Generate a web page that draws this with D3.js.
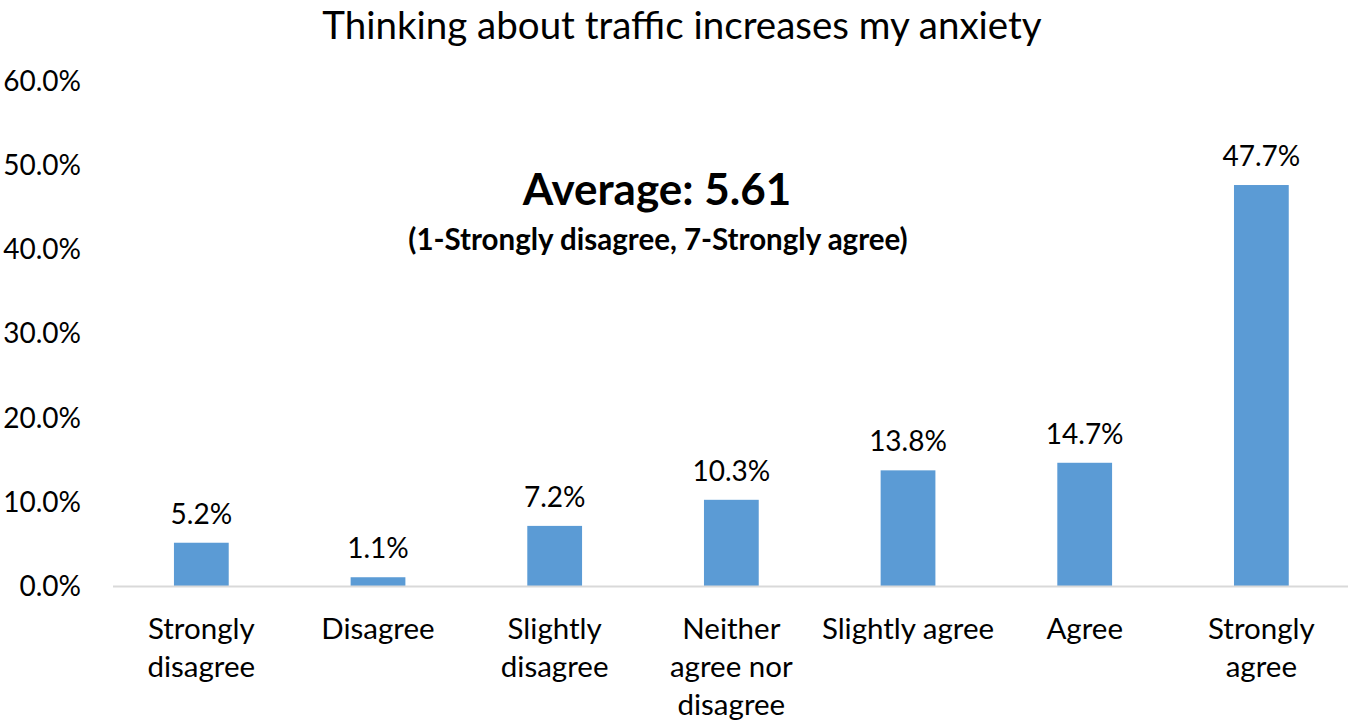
<!DOCTYPE html>
<html><head><meta charset="utf-8">
<script src="https://cdn.jsdelivr.net/npm/d3@7"></script>
<style>body{margin:0;background:#fff}svg{display:block}text{font-family:Lato,"Open Sans",sans-serif;fill:#000}</style>
</head><body>
<script>
const categories = [["Strongly","disagree"],["Disagree"],["Slightly","disagree"],["Neither","agree nor","disagree"],["Slightly agree"],["Agree"],["Strongly","agree"]];
const values = [5.2, 1.1, 7.2, 10.3, 13.8, 14.7, 47.7];
const yTicks = [0, 10, 20, 30, 40, 50, 60];
const title = "Thinking about traffic increases my anxiety";
const avgText = "Average: 5.61";
const avgSub = "(1-Strongly disagree, 7-Strongly agree)";

const W = 1349, H = 721;
const svg = d3.select("body").append("svg").attr("width", W).attr("height", H);
const x = d3.scaleBand().domain(d3.range(values.length)).range([113, 1349.7]).paddingInner(0.69).paddingOuter(0.345);
const y = d3.scaleLinear().domain([0, 60]).range([586.5, 81.5]);

svg.append("text").attr("x", 682).attr("y", 38.5).attr("text-anchor", "middle")
  .style("font-size", "38.5px").text(title);

const yAxis = svg.append("g").attr("transform", "translate(81,0)")
  .call(d3.axisLeft(y).tickValues(yTicks).tickSize(0).tickPadding(0).tickFormat(d => d.toFixed(1) + "%"));
yAxis.select(".domain").remove();
yAxis.selectAll("text").style("font-size", "28px").style("font-family", "Lato").attr("fill", "#000");

svg.append("g").selectAll("rect").data(values).join("rect")
  .attr("x", (d, i) => x(i)).attr("width", x.bandwidth())
  .attr("y", d => y(d)).attr("height", d => y(0) - y(d)).attr("fill", "#5B9BD5");

svg.append("line").attr("x1", 113).attr("x2", 1348).attr("y1", y(0)).attr("y2", y(0))
  .attr("stroke", "#D9D9D9").attr("stroke-width", 2);

svg.append("g").selectAll("text").data(values).join("text")
  .attr("x", (d, i) => x(i) + x.bandwidth() / 2).attr("y", d => y(d) - 29).attr("dy", "0.35em")
  .attr("text-anchor", "middle").style("font-size", "28px").text(d => d.toFixed(1) + "%");

const cat = svg.append("g").selectAll("text").data(categories).join("text")
  .attr("x", (d, i) => x(i) + x.bandwidth() / 2).attr("y", 629).attr("text-anchor", "middle")
  .style("font-size", "29.5px");
cat.selectAll("tspan").data((d, i) => d.map(t => ({t, i}))).join("tspan")
  .attr("x", d => x(d.i) + x.bandwidth() / 2).attr("dy", (d, j) => j === 0 ? "0.35em" : "38px").text(d => d.t);

svg.append("text").attr("x", 657).attr("y", 190).attr("dy", "0.35em").attr("text-anchor", "middle")
  .style("font-size", "44px").style("font-weight", "bold").text(avgText);
svg.append("text").attr("x", 658).attr("y", 240).attr("dy", "0.35em").attr("text-anchor", "middle")
  .style("font-size", "29.5px").style("font-weight", "bold").text(avgSub);
</script>
</body></html>
